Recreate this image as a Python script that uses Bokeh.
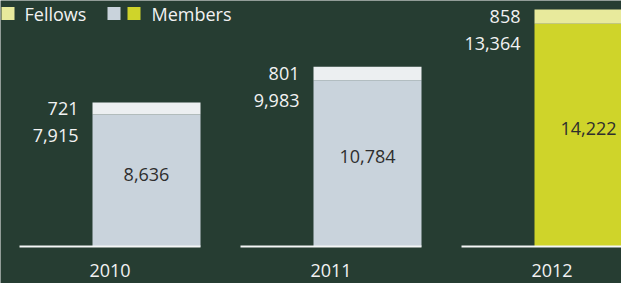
from bokeh.plotting import figure
from bokeh.models import ColumnDataSource, Range1d, Label, BoxAnnotation
from bokeh.embed import file_html
from bokeh.resources import INLINE
from bokeh.core.properties import value

# ---- data ----
years = ["2010", "2011", "2012"]
members = [7915, 9983, 13364]
fellows = [721, 801, 858]

member_colors = ["#C9D3DC", "#C9D3DC", "#CFD42A"]
fellow_colors = ["#ECEFF1", "#ECEFF1", "#E8EA9C"]

# ---- layout / style ----
W, H = 621, 283
BG = "#263D32"
FONT = "Open Sans"
GROUP_PX = 221        # distance between groups in px
BAR_PX = 108          # bar width in px
PAD_PX = 73           # baseline extends left of bar
X0_PX = 146           # px position of first bar centre
BASE_PX = 246         # baseline position from top
TOP_PX = 9            # top of tallest bar from top

totals = [m + f for m, f in zip(members, fellows)]
xs = list(range(len(years)))
upp = max(totals) / (BASE_PX - TOP_PX)   # data units per px
bw = BAR_PX / GROUP_PX
pad = PAD_PX / GROUP_PX

src = ColumnDataSource(dict(
    x=xs,
    left=[x - bw / 2 for x in xs],
    seg0=[x - bw / 2 - pad for x in xs],
    seg1=[x + bw / 2 for x in xs],
    mid=[x - pad / 2 for x in xs],
    year=years,
    members=members,
    fellows=fellows,
    totals=totals,
    half=[t / 2 for t in totals],
    fmid=[m + f / 2 for m, f in zip(members, fellows)],
    mlab=[f"{v:,}" for v in members],
    flab=[f"{v:,}" for v in fellows],
    tlab=[f"{v:,}" for v in totals],
    mcol=member_colors,
    fcol=fellow_colors,
    zero=[0] * len(xs),
))

p = figure(width=W, height=H,
           x_range=Range1d(-X0_PX / GROUP_PX, (W - X0_PX) / GROUP_PX),
           y_range=Range1d(-(H - BASE_PX) * upp, BASE_PX * upp),
           x_axis_type=None, y_axis_type=None,
           output_backend="svg", toolbar_location=None,
           min_border=0, background_fill_color=BG, border_fill_color=BG,
           outline_line_color=None)
p.grid.visible = False

p.vbar(x="x", width=bw, bottom="zero", top="members", fill_color="mcol",
       line_color=None, source=src)
p.vbar(x="x", width=bw, bottom="members", top="totals", fill_color="fcol",
       line_color=None, source=src)
p.segment(x0="seg0", x1="seg1", y0="zero", y1="zero", line_color="#F4F6F6",
          line_width=2, source=src)

common = dict(text_font=value(FONT), text_font_size="18px",
              text_baseline="middle", source=src)
p.text(x="left", y="fmid", text="flab", x_offset=-14, text_align="right",
       text_color="#F2F2F2", **common)
p.text(x="left", y="fmid", text="mlab", x_offset=-14, y_offset=27,
       text_align="right", text_color="#F2F2F2", **common)
p.text(x="x", y="half", text="tlab", text_align="center",
       text_color="#2E2E2E", **common)
p.text(x="mid", y="zero", text="year", y_offset=24, text_align="center",
       text_color="#F2F2F2", **common)

# ---- legend (screen units) ----
LEG_Y = 13
def swatch(x, color):
    p.add_layout(BoxAnnotation(left=x, right=x + 13,
                               top=H - LEG_Y + 6.5, bottom=H - LEG_Y - 6.5,
                               left_units="screen", right_units="screen",
                               top_units="screen", bottom_units="screen",
                               fill_color=color, fill_alpha=1, line_color=None))

swatch(-19, fellow_colors[0])
swatch(1, fellow_colors[2])
swatch(107, member_colors[0])
swatch(127, member_colors[2])
for x, t in [(24, "Fellows"), (151, "Members")]:
    p.add_layout(Label(x=x, y=H - LEG_Y, x_units="screen", y_units="screen",
                       text=t, text_font=FONT, text_font_size="18px",
                       text_baseline="middle", text_color="#F2F2F2"))

open("out.html", "w").write(file_html(p, INLINE))
